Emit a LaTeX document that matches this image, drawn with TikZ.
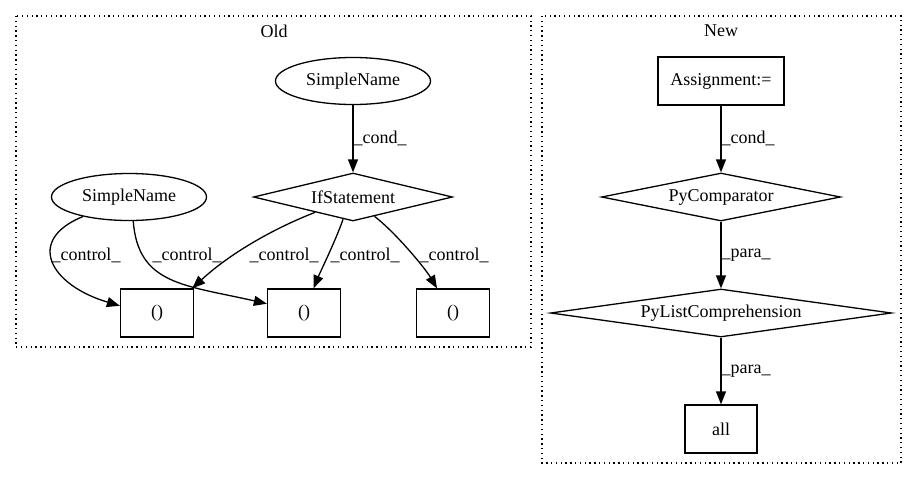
\documentclass[tikz,border=0pt]{standalone}
\usepackage{fontspec}
\setmainfont{Liberation Serif}
\usetikzlibrary{shapes.geometric,arrows.meta}
\begin{document}
\begin{tikzpicture}[x=1pt,y=-1pt,
  font=\fontsize{18}{21}\selectfont,
  every node/.style={inner sep=0pt},
  ell/.style={draw,ellipse,line width=1.3pt,minimum width=155pt,minimum height=47pt},
  dia/.style={draw,diamond,line width=1.3pt,minimum height=48pt},
  box/.style={draw,rectangle,line width=1.3pt,minimum height=48pt},
  edge/.style={line width=1.3pt,-{Triangle[length=13pt,width=10pt]}},
  cluster/.style={line width=1.3pt,dash pattern=on 1.3pt off 3.5pt}
]
\useasboundingbox (0,0) rectangle (917,480);
% clusters
\draw[cluster] (16,16) rectangle (531,347);
\draw[cluster] (542,16) rectangle (901,463);
\node (oldlbl) at (274,31) {Old};
\node (newlbl) at (721,31) {New};
% Old nodes
\node[ell] (sn1) at (353,81) {SimpleName};
\node[dia,aspect=4.15,minimum width=199pt] (ifs) at (353,197) {IfStatement};
\node[ell] (sn2) at (129,197) {SimpleName};
\node[box,minimum width=73pt] (b1) at (157,313) {()};
\node[box,minimum width=73pt] (b2) at (304,313) {()};
\node[box,minimum width=73pt] (b3) at (453,313) {()};
% New nodes
\node[box,minimum width=126pt] (asg) at (721,81) {Assignment:=};
\node[dia,aspect=5,minimum width=239pt] (pyc) at (721,197) {PyComparator};
\node[dia,aspect=7.1,minimum width=341pt] (plc) at (721,313) {PyListComprehension};
\node[box,minimum width=72pt] (all) at (721,429) {all};
% Old edges
\draw[edge] (sn1) -- (ifs);
\draw[edge] (ifs.202) .. controls (265,232) and (225,258) .. (b1.35);
\draw[edge] (ifs.246) .. controls (335,242) and (322,268) .. (b2.69);
\draw[edge] (ifs.318) .. controls (395,232) and (425,268) .. (b3.123);
\draw[edge] (sn2.203) .. controls (25,240) and (50,285) .. (b1.169);
\draw[edge] (sn2.280) .. controls (138,285) and (185,285) .. (b2.166);
\node (lc) at (380,138) {\_cond\_};
\node (lk1) at (86,255) {\_control\_};
\node (lk2) at (187,255) {\_control\_};
\node (lk3) at (284,255) {\_control\_};
\node (lk4) at (365,255) {\_control\_};
\node (lk5) at (454,255) {\_control\_};
% New edges
\draw[edge] (asg) -- (pyc);
\draw[edge] (pyc) -- (plc);
\draw[edge] (plc) -- (all);
\node (nc) at (748,138) {\_cond\_};
\node (np1) at (746,255) {\_para\_};
\node (np2) at (746,371) {\_para\_};
\end{tikzpicture}
\end{document}
